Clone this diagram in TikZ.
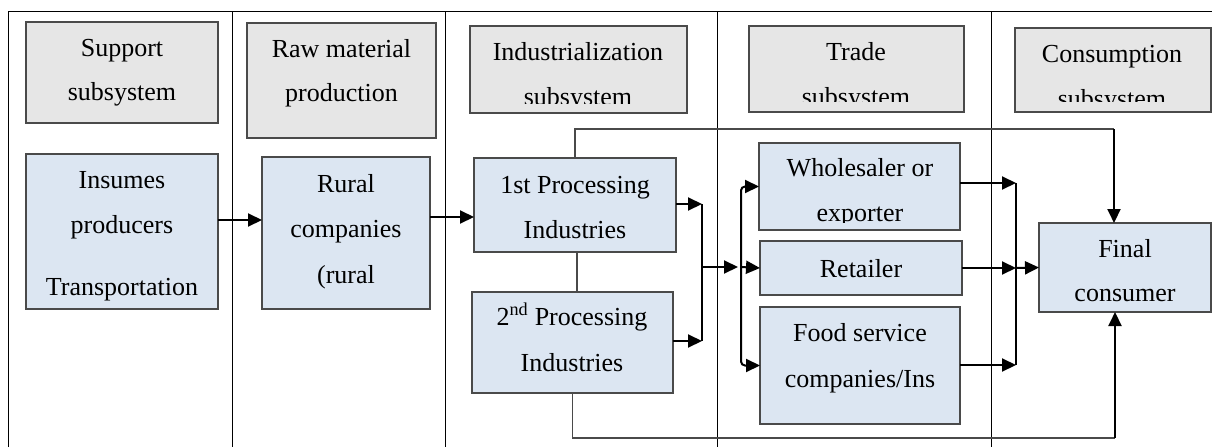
\documentclass[tikz,border=0pt]{standalone}
\usepackage{fontspec}
\setmainfont{Liberation Serif}
\usetikzlibrary{arrows.meta}
\definecolor{hdrfill}{HTML}{E6E6E6}
\definecolor{boxfill}{HTML}{DCE6F2}
\definecolor{edge}{HTML}{4A4A4A}
\begin{document}
\begin{tikzpicture}[x=1pt,y=-1pt,
  frame/.style={draw=black,line width=1pt},
  panel/.style={draw=edge,line width=1.4pt,inner sep=0pt,outer sep=0pt,rectangle},
  hdr/.style={panel,fill=hdrfill},
  unit/.style={panel,fill=boxfill},
  txt/.style={inner sep=0pt,anchor=base,font=\fontsize{26}{30}\selectfont},
  arr/.style={draw=black,line width=2pt,-{Triangle[length=14pt,width=13pt]}},
  link/.style={draw=black,line width=2pt},
  feed/.style={draw=edge,line width=1.5pt}]
\useasboundingbox (0,0) rectangle (1212,447);

% frame and column separators
\coordinate (fTL) at (8,11);
\coordinate (fTR) at (1212,11);
\coordinate (fBL) at (8,447);
\draw[frame] (fBL) -- (fTL) -- (fTR);
\foreach \cx/\nm in {232/c1,445/c2,717/c3,991/c4}{
  \coordinate (\nm t) at (\cx,11);
  \coordinate (\nm b) at (\cx,447);
  \draw[frame] (\nm t) -- (\nm b);
}

% subsystem headers
\node[hdr,minimum width=192pt,minimum height=101pt] (h1) at (122,72.5) {};
\node[hdr,minimum width=189pt,minimum height=115pt] (h2) at (341.5,80.5) {};
\node[hdr,minimum width=217pt,minimum height=87pt] (h3) at (578.5,69.5) {};
\node[hdr,minimum width=215pt,minimum height=86pt] (h4) at (856.5,69) {};
\node[hdr,minimum width=196pt,minimum height=84pt] (h5) at (1113,70) {};

% chain members
\node[unit,minimum width=192pt,minimum height=155pt] (b1) at (122,231.5) {};
\node[unit,minimum width=168pt,minimum height=152pt] (b2) at (346,233) {};
\node[unit,minimum width=202pt,minimum height=94pt] (p1) at (575,205) {};
\node[unit,minimum width=201pt,minimum height=101pt] (p2) at (572.5,342.5) {};
\node[unit,minimum width=201pt,minimum height=87pt] (ws) at (859.5,186.5) {};
\node[unit,minimum width=202pt,minimum height=54pt] (ret) at (861,268) {};
\node[unit,minimum width=200pt,minimum height=117pt] (fd) at (860,365.5) {};
\node[unit,minimum width=172pt,minimum height=89pt] (fin) at (1125,267.5) {};

% header texts
\node[txt] (h1a) at (122,56) {Support};
\node[txt] (h1b) at (122,100) {subsystem};
\node[txt] (h2a) at (341.5,57) {Raw material};
\node[txt] (h2b) at (341.5,101) {production};
\begin{scope}
  \clip (471,27) rectangle (686,103);
  \node[txt] (h3a) at (578,60) {Industrialization};
  \node[txt] (h3b) at (578,105) {subsystem};
\end{scope}
\begin{scope}
  \clip (750,27) rectangle (963,101);
  \node[txt] (h4a) at (856,60) {Trade};
  \node[txt] (h4b) at (856,105) {subsystem};
\end{scope}
\begin{scope}
  \clip (1016,29) rectangle (1210,101);
  \node[txt] (h5a) at (1112,62) {Consumption};
  \node[txt] (h5b) at (1112,107) {subsystem};
\end{scope}

% member texts
\node[txt] (b1a) at (122,188) {Insumes};
\node[txt] (b1b) at (122,233) {producers};
\node[txt] (b1c) at (122,295) {Transportation};
\node[txt] (b2a) at (346,192) {Rural};
\node[txt] (b2b) at (346,237) {companies};
\node[txt] (b2c) at (346,283) {(rural};
\node[txt] (p1a) at (575,193) {1st Processing};
\node[txt] (p1b) at (575,238) {Industries};
\node[txt] (p2a) at (572,325) {2\textsuperscript{nd} Processing};
\node[txt] (p2b) at (572,371) {Industries};
\begin{scope}
  \clip (760,144) rectangle (959,222);
  \node[txt] (wsa) at (860,176) {Wholesaler or};
  \node[txt] (wsb) at (860,221) {exporter};
\end{scope}
\node[txt] (reta) at (861,277) {Retailer};
\node[txt] (fda) at (860,341) {Food service};
\node[txt] (fdb) at (860,387) {companies/Ins};
\node[txt] (fina) at (1125,257) {Final};
\node[txt] (finb) at (1125,301) {consumer};

% junction points
\coordinate (y1) at (0,220);
\coordinate (y2) at (0,217);
\coordinate (yW) at (0,183);
\coordinate (jA) at (702,204);
\coordinate (jB) at (702,341);
\coordinate (jL) at (702,267);
\coordinate (jM) at (741,267);
\coordinate (jR1) at (1016,183);
\coordinate (jR) at (1016,268);
\coordinate (jR3) at (1016,365);
\coordinate (topY) at (0,129);
\coordinate (botY) at (0,438);
\coordinate (finT) at ([xshift=-11pt]fin.north);
\coordinate (finB) at ([xshift=-10pt]fin.south);

% main flow
\draw[arr] (b1.east |- y1) -- (b2.west |- y1);
\draw[arr] (b2.east |- y2) -- (p1.west |- y2);
\draw[feed] (p1.south -| 577,0) -- (p2.north -| 577,0);
\draw[arr] (p1.east |- jA) -- (jA);
\draw[arr] (p2.east |- jB) -- (jB);
\draw[link] (jA) -- (jB);
\draw[arr] (jL) -- ([xshift=-3pt]jM);
\draw[arr,rounded corners=4pt] (jM) |- (ws.west);
\draw[arr] (jM) -- (ret.west);
\draw[arr,rounded corners=4pt] (jM) |- (fd.west);
\draw[arr] (ws.east |- yW) -- (jR1);
\draw[arr] (ret.east) -- (jR);
\draw[arr] (fd.east |- jR3) -- (jR3);
\draw[link] (jR1) -- (jR3);
\draw[arr] (jR) -- (fin.west);

% direct deliveries from processing to the final consumer
\draw[feed] (p1.north) -- (p1.north |- topY) -- (finT |- topY);
\draw[arr] (finT |- topY) -- (finT);
\draw[feed] (p2.south) -- (p2.south |- botY) -- (finB |- botY);
\draw[arr] (finB |- botY) -- (finB);
\end{tikzpicture}
\end{document}
